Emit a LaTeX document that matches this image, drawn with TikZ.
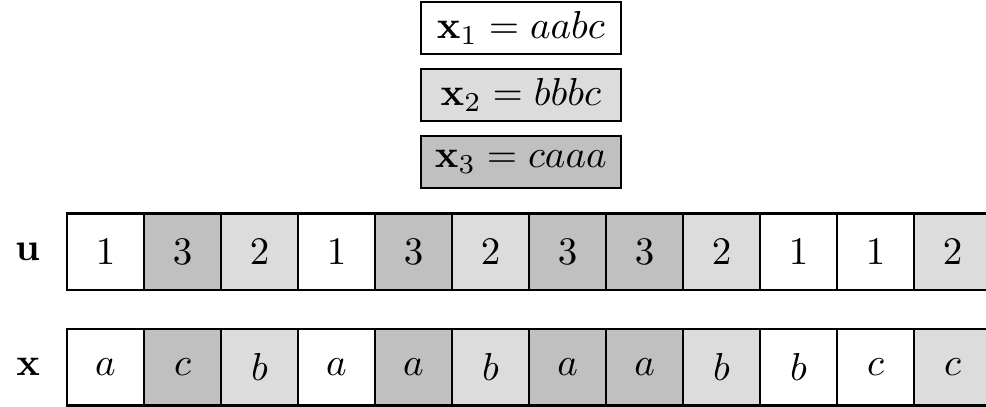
\documentclass[tikz,border=0pt]{standalone}
\usepackage{amsmath}
\usepackage{xcolor}
\usepackage{tikz}
\usetikzlibrary{positioning}
\definecolor{symone}{RGB}{255,255,255}
\definecolor{symtwo}{RGB}{220,220,220}
\definecolor{symthree}{RGB}{192,192,192}

\begin{document}
\begin{tikzpicture}[
    wordbox/.style={draw,line width=0.6pt,minimum width=1.8cm,minimum height=0.47cm,
                    inner sep=0pt,outer sep=0pt},
    cell/.style={draw,line width=0.6pt,minimum width=0.694cm,minimum height=0.69cm,
                 inner sep=0pt,outer sep=0pt},
    cone/.style={cell,fill=symone},
    ctwo/.style={cell,fill=symtwo},
    cthree/.style={cell,fill=symthree},
]
\useasboundingbox (0,0) rectangle (8.886,-3.668);

% --- the three words ---
\node[wordbox,fill=symone] (w1) at (4.694,-0.252) {$\mathbf{x}_1 = aabc$};
\node[wordbox,fill=symtwo,below=0.135cm of w1]   (w2) {$\mathbf{x}_2 = bbbc$};
\node[wordbox,fill=symthree,below=0.135cm of w2] (w3) {$\mathbf{x}_3 = caaa$};

% --- row u ---
\node[cone] (u1) at (0.951,-2.270) {$1$};
\node[cthree,right=0cm of u1]  (u2)  {$3$};
\node[ctwo,right=0cm of u2]    (u3)  {$2$};
\node[cone,right=0cm of u3]    (u4)  {$1$};
\node[cthree,right=0cm of u4]  (u5)  {$3$};
\node[ctwo,right=0cm of u5]    (u6)  {$2$};
\node[cthree,right=0cm of u6]  (u7)  {$3$};
\node[cthree,right=0cm of u7]  (u8)  {$3$};
\node[ctwo,right=0cm of u8]    (u9)  {$2$};
\node[cone,right=0cm of u9]    (u10) {$1$};
\node[cone,right=0cm of u10]   (u11) {$1$};
\node[ctwo,right=0cm of u11]   (u12) {$2$};

% --- row x ---
\node[cone,below=0.35cm of u1] (x1) {$a$};
\node[cthree,right=0cm of x1]  (x2)  {$c$};
\node[ctwo,right=0cm of x2]    (x3)  {$b$};
\node[cone,right=0cm of x3]    (x4)  {$a$};
\node[cthree,right=0cm of x4]  (x5)  {$a$};
\node[ctwo,right=0cm of x5]    (x6)  {$b$};
\node[cthree,right=0cm of x6]  (x7)  {$a$};
\node[cthree,right=0cm of x7]  (x8)  {$a$};
\node[ctwo,right=0cm of x8]    (x9)  {$b$};
\node[cone,right=0cm of x9]    (x10) {$b$};
\node[cone,right=0cm of x10]   (x11) {$c$};
\node[ctwo,right=0cm of x11]   (x12) {$c$};

% row labels
\node[left=0.12cm of u1] (ulab) {$\mathbf{u}$};
\node[left=0.12cm of x1] (xlab) {$\mathbf{x}$};
\end{tikzpicture}
\end{document}
